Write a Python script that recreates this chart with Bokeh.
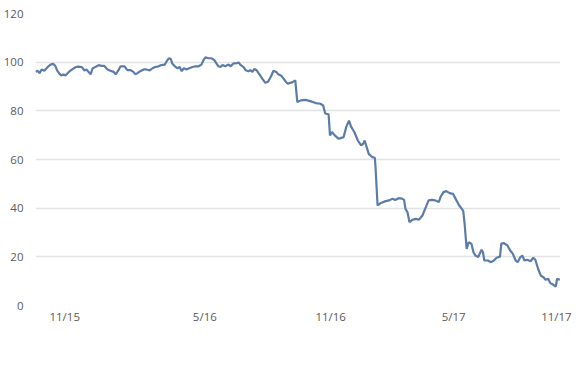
from bokeh.plotting import figure
from bokeh.models import FixedTicker, Range1d
from bokeh.embed import file_html
from bokeh.resources import INLINE

# day offset from series start, and value
days = [0, 3, 6, 9, 13, 18, 22, 26, 29, 32, 35, 38, 41, 44, 49, 54, 59, 63, 68, 72,
        75, 78, 81, 84, 88, 93, 97, 101, 106, 110, 115, 118, 122, 125, 131, 135, 140, 144, 147, 150,
        154, 159, 163, 168, 172, 176, 181, 185, 190, 193, 196, 199, 201, 206, 209, 212, 215, 218, 222, 226,
        231, 235, 240, 244, 247, 250, 254, 259, 263, 266, 269, 272, 275, 279, 284, 287, 291, 296, 299, 301,
        306, 309, 313, 316, 319, 322, 325, 328, 334, 338, 342, 346, 350, 354, 357, 362, 368, 371, 378, 382,
        385, 390, 397, 404, 412, 419, 423, 426, 431, 433, 436, 440, 446, 453, 457, 461, 464, 469, 474, 479,
        482, 484, 487, 490, 495, 499, 500, 503, 507, 515, 520, 525, 529, 534, 539, 542, 544, 547, 550, 554,
        559, 564, 569, 574, 578, 583, 588, 593, 596, 600, 604, 609, 614, 619, 623, 627, 629, 631, 634, 637,
        641, 644, 647, 651, 653, 656, 658, 660, 665, 670, 674, 678, 683, 685, 689, 694, 698, 702, 706, 709,
        713, 716, 719, 723, 728, 732, 735, 739, 743, 747, 750, 754, 757, 761, 765, 767, 771]
values = [96.0, 96.5, 95.5, 97.0, 96.5, 98.0, 99.0, 99.3, 98.5, 96.5, 95.3, 94.5, 95.0, 94.5, 96.0, 97.0, 98.0, 98.2, 98.0, 96.6,
          97.0, 96.0, 95.0, 97.5, 98.0, 98.8, 98.5, 98.5, 97.0, 96.5, 96.0, 95.0, 96.7, 98.3, 98.3, 96.7, 96.7, 96.0, 95.0, 95.5,
          96.3, 97.0, 97.0, 96.6, 97.5, 98.0, 98.3, 98.8, 99.0, 100.4, 101.6, 101.3, 99.5, 98.0, 97.5, 98.0, 96.3, 97.5, 97.0, 97.5,
          98.0, 98.3, 98.3, 99.0, 100.8, 102.0, 101.6, 101.6, 100.8, 99.5, 98.3, 98.0, 98.8, 98.3, 99.0, 98.3, 99.5, 99.6, 99.8, 99.0,
          98.0, 96.7, 96.3, 96.7, 96.0, 97.2, 96.7, 95.5, 93.0, 91.5, 92.0, 94.0, 96.5, 96.0, 95.0, 94.3, 92.0, 91.1, 91.8, 92.5,
          83.6, 84.3, 84.5, 84.0, 83.2, 82.9, 82.2, 78.9, 78.6, 69.9, 71.3, 69.9, 68.5, 69.2, 73.4, 76.0, 73.5, 71.2, 67.8, 65.8,
          66.5, 67.8, 65.1, 62.3, 61.0, 60.7, 56.9, 41.1, 42.0, 42.9, 43.2, 43.9, 43.4, 44.1, 43.9, 43.4, 39.7, 38.3, 34.2, 35.2,
          35.6, 35.3, 37.0, 40.4, 43.2, 43.4, 43.2, 42.5, 44.8, 46.6, 47.0, 46.2, 45.9, 43.2, 41.1, 39.7, 38.8, 33.6, 23.3, 26.0,
          25.4, 21.9, 20.5, 19.9, 21.2, 22.9, 21.9, 18.5, 18.5, 17.8, 18.5, 19.6, 20.1, 25.4, 25.6, 24.7, 22.6, 21.2, 18.5, 17.8,
          19.9, 20.5, 18.5, 18.8, 18.2, 19.6, 18.8, 15.1, 12.3, 11.6, 10.6, 11.0, 9.2, 8.6, 7.8, 11.0, 10.6]

tick_days = [43, 249, 434, 615, 766]
tick_labels = ["11/15", "5/16", "11/16", "5/17", "11/17"]
y_ticks = [0, 20, 40, 60, 80, 100, 120]

p = figure(width=572, height=363, output_backend="svg", toolbar_location=None,
           x_range=Range1d(0, 772), y_range=Range1d(0, 120),
           min_border_left=35, min_border_right=12, min_border_top=13, min_border_bottom=58)
p.outline_line_color = None
p.background_fill_color = "white"
p.border_fill_color = "white"

p.line(days, values, line_color="#5b7ca8", line_width=2.2)

p.xgrid.visible = False
p.ygrid.grid_line_color = "#e3e3e3"
p.ygrid.grid_line_width = 1.5
p.yaxis.ticker = FixedTicker(ticks=y_ticks)
p.xaxis.ticker = FixedTicker(ticks=tick_days)
p.xaxis.major_label_overrides = {d: l for d, l in zip(tick_days, tick_labels)}

for ax in (p.xaxis, p.yaxis):
    ax.axis_line_color = None
    ax.major_tick_line_color = None
    ax.minor_tick_line_color = None
    ax.major_label_text_font = "Open Sans"
    ax.major_label_text_font_size = "11.5px"
    ax.major_label_text_color = "#5a5a5a"
p.yaxis.major_label_standoff = 6
p.xaxis.major_label_standoff = -3

open("out.html", "w").write(file_html(p, INLINE))
